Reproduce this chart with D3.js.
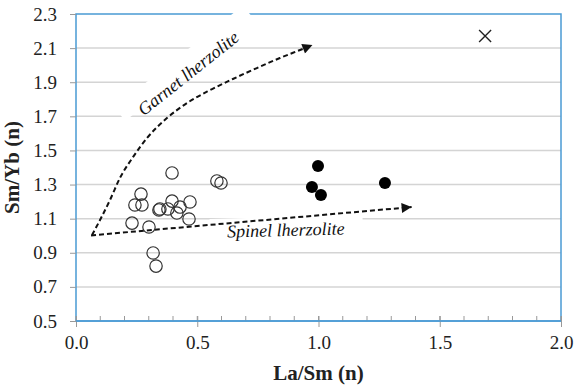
<!DOCTYPE html>
<html><head><meta charset="utf-8">
<script src="https://cdn.jsdelivr.net/npm/d3@7"></script>
<style>body{margin:0;background:#fff}svg{display:block}
text{font-family:"Liberation Serif","DejaVu Serif",serif}</style>
</head><body>
<svg id="c" width="576" height="386"></svg>
<script>
// ---- data ----
const openLa    = [0.396,0.581,0.598,0.268,0.243,0.272,0.396,0.470,0.346,0.342,0.379,0.429,0.416,0.231,0.301,0.466,0.318,0.330];
const openSmYb  = [1.368,1.321,1.309,1.244,1.180,1.180,1.203,1.198,1.157,1.151,1.157,1.168,1.133,1.074,1.051,1.098,0.899,0.822];
const filledLa   = [0.998,0.973,1.010,1.274];
const filledSmYb = [1.409,1.285,1.239,1.309];
const crossLa   = [1.687];
const crossSmYb = [2.171];
const xTicks = [0,0.5,1,1.5,2];
const yTicks = [0.5,0.7,0.9,1.1,1.3,1.5,1.7,1.9,2.1,2.3];
const xTitle = "La/Sm (n)";
const yTitle = "Sm/Yb (n)";
// trend annotations
const garnetX = [0.066,0.099,0.140,0.181,0.235,0.293,0.375,0.458,0.553,0.647,0.746,0.841,0.924,0.975];
const garnetY = [1.004,1.092,1.209,1.338,1.461,1.573,1.690,1.778,1.854,1.919,1.983,2.042,2.089,2.118];
const spinelX = [0.062,1.384];
const spinelY = [1.002,1.168];
const garnetLabel = "Garnet lherzolite";
const spinelLabel = "Spinel lherzolite";

// ---- chart ----
const svg = d3.select("#c");
const L=76,R=561,T=14,B=321;
const x = d3.scaleLinear().domain([0,2]).range([L,R]);
const y = d3.scaleLinear().domain([0.5,2.3]).range([B,T]);
const blue = "#4a9ad4";
const SERIF = "'Liberation Serif','DejaVu Serif',serif";

svg.append("defs").append("marker")
  .attr("id","ah").attr("viewBox","0 0 10 10").attr("refX",10).attr("refY",5)
  .attr("markerWidth",12).attr("markerHeight",10).attr("markerUnits","userSpaceOnUse")
  .attr("orient","auto")
  .append("path").attr("d","M0,0L10,5L0,10z").attr("fill","#111");

// gridlines
svg.append("g").selectAll("line").data(yTicks.slice(1,-1)).join("line")
  .attr("x1",L).attr("x2",R).attr("y1",d=>y(d)).attr("y2",d=>y(d))
  .attr("stroke","#d4d4d4").attr("stroke-width",1.5);

// border
svg.append("rect").attr("x",L).attr("y",T).attr("width",R-L).attr("height",B-T)
  .attr("fill","none").attr("stroke",blue).attr("stroke-width",1.5);

// label boxes + labels
const gl = svg.append("g").attr("transform","translate(192,78) rotate(-38.5)");
gl.append("rect").attr("x",-79).attr("y",-25).attr("width",164).attr("height",17).attr("fill","#fff");
const sl = svg.append("g").attr("transform","translate(286,236) rotate(-1.5)");
sl.append("rect").attr("x",-76).attr("y",-19).attr("width",153).attr("height",30).attr("fill","#fff");

// arrows
svg.append("path").datum(d3.zip(garnetX,garnetY))
  .attr("d",d3.line().x(d=>x(d[0])).y(d=>y(d[1])).curve(d3.curveMonotoneX))
  .attr("fill","none").attr("stroke","#111").attr("stroke-width",2)
  .attr("stroke-dasharray","5,3").attr("marker-end","url(#ah)");
svg.append("path").datum(d3.zip(spinelX,spinelY))
  .attr("d",d3.line().x(d=>x(d[0])).y(d=>y(d[1])))
  .attr("fill","none").attr("stroke","#111").attr("stroke-width",2)
  .attr("stroke-dasharray","5,3").attr("marker-end","url(#ah)");

gl.append("text").text(garnetLabel).attr("text-anchor","middle")
  .style("font-family",SERIF).attr("font-style","italic").attr("font-size",18).attr("fill","#111");
sl.append("text").text(spinelLabel).attr("text-anchor","middle")
  .style("font-family",SERIF).attr("font-style","italic").attr("font-size",18).attr("fill","#111");

// points
svg.append("g").selectAll("circle").data(d3.zip(openLa,openSmYb)).join("circle")
  .attr("cx",d=>x(d[0])).attr("cy",d=>y(d[1])).attr("r",6.2)
  .attr("fill","none").attr("stroke","#333").attr("stroke-width",1.2);
svg.append("g").selectAll("circle").data(d3.zip(filledLa,filledSmYb)).join("circle")
  .attr("cx",d=>x(d[0])).attr("cy",d=>y(d[1])).attr("r",6)
  .attr("fill","#000");
svg.append("g").selectAll("path").data(d3.zip(crossLa,crossSmYb)).join("path")
  .attr("d",d=>{const cx=x(d[0]),cy=y(d[1]),s=6;return `M${cx-s},${cy-s}L${cx+s},${cy+s}M${cx-s},${cy+s}L${cx+s},${cy-s}`;})
  .attr("stroke","#222").attr("stroke-width",1.4).attr("fill","none");

// axes
const fmt = d3.format(".1f");
const ya = svg.append("g").attr("transform",`translate(${L},0)`)
  .call(d3.axisLeft(y).tickValues(yTicks).tickSize(6).tickPadding(13).tickFormat(fmt));
ya.select(".domain").remove();
ya.attr("font-family",null).attr("font-size",null);
ya.selectAll("line").attr("stroke","#999");
ya.selectAll("text").style("font-family",SERIF).attr("font-size",19).attr("fill","#222");

const xa = svg.append("g").attr("transform",`translate(0,${B})`)
  .call(d3.axisBottom(x).tickValues(xTicks).tickSize(6).tickPadding(9).tickFormat(fmt));
xa.select(".domain").remove();
xa.attr("font-family",null).attr("font-size",null);
xa.selectAll("line").attr("stroke","#999").attr("y1",-5);
xa.selectAll("text").style("font-family",SERIF).attr("font-size",19).attr("fill","#222");
svg.append("g").selectAll("line").data(x.ticks(20)).join("line")
  .attr("x1",d=>x(d)).attr("x2",d=>x(d)).attr("y1",B-5).attr("y2",B)
  .attr("stroke","#999");
svg.append("line").attr("x1",L).attr("x2",R).attr("y1",B).attr("y2",B).attr("stroke",blue).attr("stroke-width",1.5);

svg.append("text").text(xTitle).attr("x",(L+R)/2).attr("y",380).attr("text-anchor","middle")
  .style("font-family",SERIF).attr("font-weight","bold").attr("font-size",21).attr("fill","#222");
svg.append("text").text(yTitle).attr("transform",`translate(19,${(T+B)/2}) rotate(-90)`).attr("text-anchor","middle")
  .style("font-family",SERIF).attr("font-weight","bold").attr("font-size",21).attr("fill","#222");
</script>
</body></html>
